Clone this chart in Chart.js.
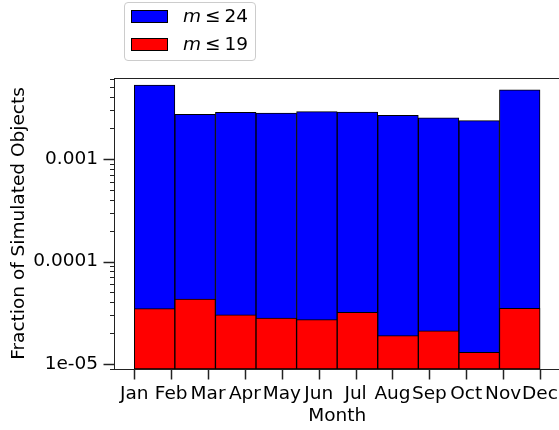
<!DOCTYPE html>
<html>
<head>
<meta charset="utf-8">
<script src="https://cdn.jsdelivr.net/npm/chart.js@4/dist/chart.umd.min.js"></script>
<style>
  body { margin: 0; background: #fff; overflow: hidden; }
  #wrap { position: relative; width: 562px; height: 430px; }
  #legend {
    position: absolute; left: 124px; top: 2px; width: 130px; height: 57px;
    border: 1px solid #ccc; border-radius: 4px; background: rgba(255,255,255,0.8);
    font-family: "DejaVu Sans"; font-size: 18.5px; color: #000;
  }
  .patch { position: absolute; left: 6px; width: 35px; height: 11px; border: 1px solid #000; }
  .lab { position: absolute; left: 58px; white-space: nowrap; line-height: 18px; }
  .rel { margin: 0 4px; }
</style>
</head>
<body>
<div id="wrap">
  <canvas id="monthChart"></canvas>
  <div id="legend">
    <div class="patch" style="top: 7px; background: #0000ff;"></div>
    <div class="lab" style="top: 4px;"><i>m</i><span class="rel">≤</span>24</div>
    <div class="patch" style="top: 35px; background: #ff0000;"></div>
    <div class="lab" style="top: 32px;"><i>m</i><span class="rel">≤</span>19</div>
  </div>
</div>
<script>
var months = ["Jan", "Feb", "Mar", "Apr", "May", "Jun", "Jul", "Aug", "Sep", "Oct", "Nov", "Dec"];
var monthTicks = [1, 2, 3, 4, 5, 6, 7, 8, 9, 10, 11, 12];
var binEdges = [1, 2.1, 3.2, 4.3, 5.4, 6.5, 7.6, 8.7, 9.8, 10.9, 12];
var fracM24 = [0.00528, 0.00273, 0.00285, 0.00281, 0.00290, 0.00288, 0.00267, 0.00252, 0.00237, 0.00475];
var fracM19 = [3.47e-5, 4.29e-5, 3.01e-5, 2.80e-5, 2.71e-5, 3.20e-5, 1.89e-5, 2.10e-5, 1.30e-5, 3.50e-5];
var yTickValues = [1e-5, 1e-4, 1e-3];
var yTickLabels = ["1e-05", "0.0001", "0.001"];
var yMin = 8.93e-6, yMax = 6.18e-3;
var xMin = 0.45, xMax = 12.55;

var binCenters = binEdges.slice(0, -1).map(function (e, i) {
    return (e + binEdges[i + 1]) / 2;
});

// log minor ticks between decades
var yTicks = [];
[1e-6, 1e-5, 1e-4, 1e-3].forEach(function (d) {
    for (var k = 1; k <= 9; k++) {
        var v = k * d;
        if (v >= yMin && v <= yMax) yTicks.push({ value: v, major: k === 1 });
    }
});

Chart.defaults.font.family = "DejaVu Sans";
Chart.defaults.font.size = 18.5;
Chart.defaults.color = "#000";

// spines and tick marks, drawn over the bars
var axesFrame = {
    id: "axesFrame",
    afterDatasetsDraw: function (chart) {
        var ctx = chart.ctx, a = chart.chartArea;
        var ys = chart.scales.y, xs = chart.scales.xMonth;
        ctx.save();
        ctx.strokeStyle = "#222";
        ctx.lineWidth = 1;
        ctx.strokeRect(a.left + 0.5, a.top + 0.5, a.right - a.left, a.bottom - a.top);
        ys.ticks.forEach(function (t) {
            var py = Math.round(ys.getPixelForValue(t.value)) + 0.5;
            ctx.lineWidth = t.major ? 1.5 : 1;
            ctx.beginPath();
            ctx.moveTo(a.left - (t.major ? 10.5 : 4), py);
            ctx.lineTo(a.left, py);
            ctx.stroke();
        });
        xs.ticks.forEach(function (t) {
            var px = Math.round(xs.getPixelForValue(t.value)) + 0.5;
            ctx.lineWidth = 1.5;
            ctx.beginPath();
            ctx.moveTo(px, a.bottom);
            ctx.lineTo(px, a.bottom + 10.5);
            ctx.stroke();
        });
        ctx.restore();
    },
};

var barStyle = {
    borderColor: "#000",
    borderWidth: 1,
    borderSkipped: false,
    grouped: false,
    barPercentage: 1,
    categoryPercentage: 1,
};

new Chart(document.getElementById("monthChart"), {
    type: "bar",
    data: {
        datasets: [
            Object.assign({
                label: "m ≤ 24",
                data: binCenters.map(function (x, i) { return { x: x, y: fracM24[i] }; }),
                backgroundColor: "#0000ff",
                order: 1,
            }, barStyle),
            Object.assign({
                label: "m ≤ 19",
                data: binCenters.map(function (x, i) { return { x: x, y: fracM19[i] }; }),
                backgroundColor: "#ff0000",
                order: 0,
            }, barStyle),
        ],
    },
    options: {
        responsive: true,
        maintainAspectRatio: false,
        animation: false,
        layout: { padding: { top: 78, left: 0, right: 1, bottom: 0 } },
        plugins: {
            legend: { display: false },
            tooltip: { enabled: false },
        },
        scales: {
            x: {
                type: "linear",
                display: false,
                min: xMin,
                max: xMax,
                offset: false,
                afterBuildTicks: function (s) {
                    s.ticks = binCenters.map(function (v) { return { value: v }; });
                },
            },
            xMonth: {
                type: "linear",
                axis: "x",
                position: "bottom",
                min: xMin,
                max: xMax,
                offset: false,
                afterBuildTicks: function (s) {
                    s.ticks = monthTicks.map(function (v) { return { value: v }; });
                },
                afterFit: function (s) { s.height = 61; },
                grid: { display: false, drawTicks: true, tickLength: 10, offset: false },
                border: { display: false },
                ticks: {
                    autoSkip: false,
                    maxRotation: 0,
                    padding: 4,
                    callback: function (value, index) { return months[index]; },
                },
                title: { display: true, text: "Month", padding: { top: 0, bottom: 3 } },
            },
            y: {
                type: "logarithmic",
                min: yMin,
                max: yMax,
                afterBuildTicks: function (s) {
                    s.ticks = yTicks.map(function (t) { return { value: t.value, major: t.major }; });
                },
                afterFit: function (s) { s.width = 114; },
                grid: { display: false, drawTicks: true, tickLength: 10 },
                border: { display: false },
                ticks: {
                    autoSkip: false,
                    padding: 6,
                    callback: function (value) {
                        var i = yTickValues.findIndex(function (v) { return Math.abs(v - value) / v < 1e-6; });
                        return i >= 0 ? yTickLabels[i] : "";
                    },
                },
                title: {
                    display: true,
                    text: "Fraction of Simulated Objects",
                    padding: { top: 8, bottom: 0 },
                },
            },
        },
    },
    plugins: [axesFrame],
});
</script>
</body>
</html>
